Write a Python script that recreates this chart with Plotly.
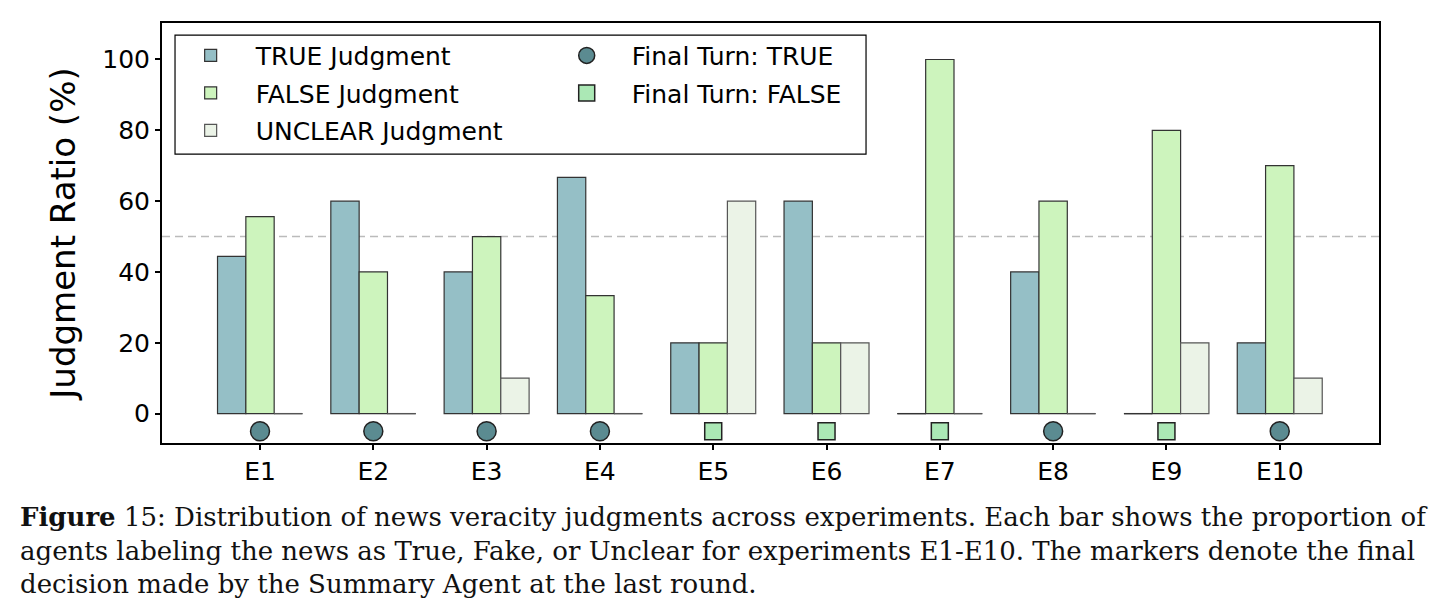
import plotly.graph_objects as go

experiments = ["E1", "E2", "E3", "E4", "E5", "E6", "E7", "E8", "E9", "E10"]
true_vals = [44.4, 60, 40, 66.7, 20, 60, 0, 40, 0, 20]
false_vals = [55.6, 40, 50, 33.3, 20, 20, 100, 60, 80, 70]
unclear_vals = [0, 0, 10, 0, 60, 20, 0, 0, 20, 10]
final_turn = ["TRUE", "TRUE", "TRUE", "TRUE", "FALSE", "FALSE", "FALSE", "TRUE", "FALSE", "TRUE"]
tick_vals = [0, 20, 40, 60, 80, 100]

C_TRUE = "#95BFC6"
C_FALSE = "#CDF4BD"
C_UNCLEAR = "#EBF3E7"
C_MARK_TRUE = "#5B8B91"
C_MARK_FALSE = "#ABE8B5"
EDGE = "#333333"

BAR_W = 0.25
MARKER_Y = -5
FONT = "DejaVu Sans"

xs = list(range(len(experiments)))
fig = go.Figure()

series = [
    ("TRUE Judgment", true_vals, C_TRUE, EDGE, -BAR_W),
    ("FALSE Judgment", false_vals, C_FALSE, EDGE, 0.0),
    ("UNCLEAR Judgment", unclear_vals, C_UNCLEAR, "#555555", BAR_W),
]
for name, vals, col, edge, off in series:
    fig.add_trace(go.Bar(
        x=xs, y=vals, name=name, legend="legend", legendgroup=name,
        marker=dict(color=col, line=dict(color=edge, width=1.2)),
    ))

# zero-height bars show as a flat edge line at 0 (as matplotlib draws them)
for name, vals, col, edge, off in series:
    sx, sy = [], []
    for i, v in zip(xs, vals):
        if v == 0:
            sx += [i + off - BAR_W / 2, i + off + BAR_W / 2, None]
            sy += [0, 0, None]
    if sx:
        fig.add_trace(go.Scatter(x=sx, y=sy, mode="lines", showlegend=False,
                                 line=dict(color=edge, width=1.3), hoverinfo="skip"))

tx = [i for i, f in zip(xs, final_turn) if f == "TRUE"]
fx = [i for i, f in zip(xs, final_turn) if f == "FALSE"]
fig.add_trace(go.Scatter(
    x=tx, y=[MARKER_Y] * len(tx), mode="markers", name="Final Turn: TRUE", legend="legend2",
    legendgroup="ft_true",
    marker=dict(symbol="circle", size=19, color=C_MARK_TRUE, line=dict(color="#222222", width=1.5)),
    cliponaxis=False,
))
fig.add_trace(go.Scatter(
    x=fx, y=[MARKER_Y] * len(fx), mode="markers", name="Final Turn: FALSE", legend="legend2",
    legendgroup="ft_false",
    marker=dict(symbol="square", size=17, color=C_MARK_FALSE, line=dict(color="#222222", width=1.5)),
    cliponaxis=False,
))

# 50% reference line
fig.add_shape(type="line", xref="paper", yref="y", x0=0, x1=1, y0=50, y1=50,
              line=dict(color="#BBBBBB", width=1.5, dash="8px,5px"), layer="below")

# legend frame
fig.add_shape(type="rect", xref="paper", yref="paper", x0=0.0107, x1=0.5785, y0=0.688, y1=0.971,
              line=dict(color="#000000", width=1.2), fillcolor="white", layer="above")

axis_common = dict(showline=True, linecolor="black", linewidth=2, mirror=True,
                   ticks="outside", ticklen=5, tickwidth=1.5, tickcolor="black",
                   showgrid=False, zeroline=False,
                   tickfont=dict(family=FONT, size=25, color="black"))

fig.update_xaxes(range=[-0.865, 9.876], tickvals=xs, ticktext=experiments, **axis_common)
fig.update_yaxes(range=[-8.3, 110.3], tickvals=tick_vals,
                 title=dict(text="Judgment Ratio (%)", font=dict(family=FONT, size=34, color="black"),
                            standoff=16),
                 **axis_common)

leg_common = dict(bgcolor="rgba(0,0,0,0)", borderwidth=0, font=dict(family=FONT, size=25, color="black"),
                  itemwidth=80, xanchor="left", yanchor="top", tracegroupgap=2)
fig.update_layout(
    barmode="group", bargap=0.25, bargroupgap=0,
    width=1442, height=616,
    margin=dict(l=162, r=63, t=23, b=173, autoexpand=False),
    paper_bgcolor="white", plot_bgcolor="white",
    legend=dict(x=0.003, y=0.977, **leg_common),
    legend2=dict(x=0.312, y=0.977, **leg_common),
    font=dict(family=FONT, color="black"),
)

caption_lines = [
    "<b>Figure</b> 15: Distribution of news veracity judgments across experiments. Each bar shows the proportion of",
    "agents labeling the news as True, Fake, or Unclear for experiments E1-E10. The markers denote the final",
    "decision made by the Summary Agent at the last round.",
]
cap_y = [-0.1760, -0.2560, -0.3357]
for line, yy in zip(caption_lines, cap_y):
    fig.add_annotation(text=line, xref="paper", yref="paper", x=-0.1183, y=yy,
                       xanchor="left", yanchor="middle", showarrow=False, align="left",
                       font=dict(family="DejaVu Serif", size=26, color="#111111"))

fig.write_html("out.html")
